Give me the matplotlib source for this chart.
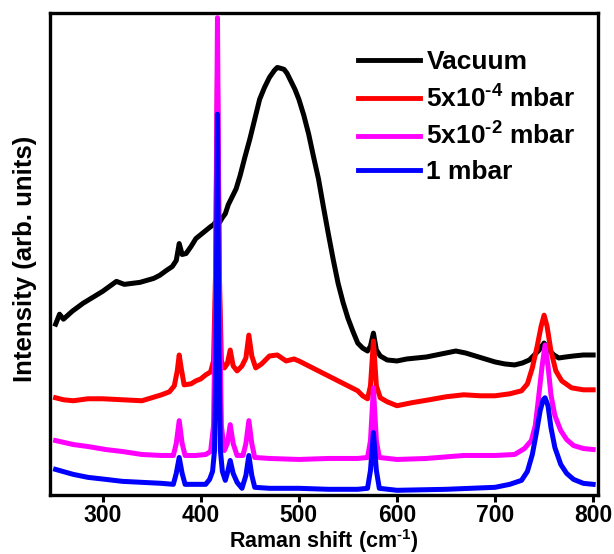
import matplotlib
matplotlib.use("Agg")
import matplotlib.pyplot as plt

plt.rcParams['font.family'] = ['Liberation Sans', 'DejaVu Sans']
plt.rcParams['font.weight'] = 'bold'
plt.rcParams['mathtext.fontset'] = 'custom'
plt.rcParams['mathtext.rm'] = 'Liberation Sans:bold'
plt.rcParams['mathtext.bf'] = 'Liberation Sans:bold'
plt.rcParams['mathtext.default'] = 'bf'

labels = ['Vacuum', r'5x10$^{\text{-}4}$ mbar', r'5x10$^{\text{-}2}$ mbar', '1 mbar']
colors = ['#000000', '#ff0000', '#ff00ff', '#0000ff']

vac_x = [252, 256, 260, 269, 280, 290, 300, 307, 314, 322, 330, 338, 345, 352, 358, 365, 371,
         375, 378, 381, 385, 390, 395, 400, 405, 410, 413, 416, 419, 422, 425, 428, 432, 436,
         440, 445, 450, 455, 460, 465, 470, 475, 478, 482, 485, 488, 492, 496, 500, 505, 510,
         515, 520, 525, 530, 535, 540, 545, 550, 555, 560, 565, 570, 573, 576, 579, 583, 590,
         600, 610, 620, 630, 640, 650, 660, 670, 680, 690, 700, 710, 720, 728, 735, 740, 745,
         750, 755, 760, 765, 772, 780, 790, 800]
vac_y = [172, 182, 177, 185, 193, 199, 205, 210, 215, 212, 213, 214, 216, 218, 221, 226, 230,
         236, 253, 242, 243, 250, 258, 262, 266, 270, 272, 276, 274, 279, 283, 292, 300, 308,
         321, 340, 358, 378, 398, 410, 420, 427, 430, 429, 428, 424, 416, 408, 398, 382, 363,
         340, 318, 290, 263, 237, 213, 194, 178, 165, 153, 148, 145, 150, 163, 146, 140, 136,
         135, 137, 138, 139, 141, 143, 145, 143, 140, 137, 134, 132, 131, 133, 136, 141, 146,
         153, 146, 141, 138, 139, 140, 141, 141]

red_x = [252, 260, 270, 285, 300, 320, 340, 360, 368, 373, 376, 378, 380, 383, 390, 395, 400,
         405, 410, 413, 415, 417, 419, 421, 424, 427, 430, 433, 437, 442, 446, 449, 452, 456,
         462, 470, 478, 487, 495, 500, 510, 520, 530, 540, 550, 560, 565, 570, 573, 576, 579,
         583, 590, 600, 615, 633, 650, 668, 685, 700, 715, 727, 733, 738, 743, 747, 750, 753,
         757, 762, 768, 778, 790, 800]
red_y = [98, 96, 95, 97, 97, 96, 95, 101, 104, 110, 125, 141, 128, 111, 112, 115, 117,
         121, 124, 135, 220, 420, 220, 135, 128, 132, 146, 130, 125, 130, 138, 161, 140, 128,
         132, 140, 141, 135, 137, 135, 130, 125, 120, 115, 110, 105, 100, 97, 110, 155, 110,
         98, 94, 90, 93, 96, 99, 101, 100, 100, 102, 105, 112, 128, 150, 170, 181, 170,
         145, 125, 115, 108, 106, 106]

mag_x = [252, 270, 285, 303, 320, 340, 360, 372, 375, 378, 381, 384, 395, 405, 410, 413, 415,
         417, 419, 421, 424, 427, 430, 433, 437, 443, 446, 449, 452, 455, 470, 500, 530, 560,
         570, 573, 576, 579, 582, 600, 630, 668, 700, 720, 730, 737, 741, 744, 748, 751, 754,
         757, 761, 767, 773, 780, 790, 800]
mag_y = [55, 51, 49, 46, 44, 41, 40, 40, 52, 75, 52, 40, 40, 41, 44, 70, 200,
         480, 200, 70, 45, 52, 71, 52, 40, 40, 52, 75, 52, 38, 37, 36, 37, 37,
         38, 55, 108, 55, 38, 36, 37, 40, 40, 41, 47, 55, 70, 95, 130, 151, 130,
         101, 80, 65, 56, 50, 47, 46]

blue_x = [252, 270, 285, 303, 320, 340, 360, 372, 375, 378, 381, 384, 395, 405, 409, 412, 414,
          415.5, 417, 418.5, 420, 422, 425, 427, 430, 433, 437, 442, 446, 449, 452, 455, 470, 500,
          530, 560, 570, 573, 576, 579, 582, 600, 650, 700, 715, 727, 733, 738, 742, 746, 749,
          751, 754, 757, 761, 767, 773, 780, 790, 800]
blue_y = [26, 21, 18, 16, 14, 13, 12, 11, 22, 38, 22, 11, 11, 11, 16, 24, 45,
          150, 383, 150, 45, 24, 15, 22, 35, 22, 13, 7, 20, 40, 20, 8, 7, 7,
          6, 6, 7, 25, 63, 25, 7, 5, 6, 8, 11, 15, 24, 41, 62, 85, 96,
          98, 90, 68, 48, 31, 22, 16, 12, 11]

fig = plt.figure(figsize=(6.14, 5.54), dpi=100)
ax = fig.add_axes([0.081, 0.106, 0.893, 0.871])

series = [(vac_x, vac_y), (red_x, red_y), (mag_x, mag_y), (blue_x, blue_y)]
for i, ((xs, ys), lab, col) in enumerate(zip(series, labels, colors)):
    ax.plot(xs, ys, color=col, lw=3.6, label=lab, zorder=2 + i, solid_joinstyle='round')

ax.set_xlim(246, 805)
ax.set_ylim(0, 485)
ax.set_xticks([300, 400, 500, 600, 700, 800])
ax.set_yticks([])
ax.tick_params(axis='x', direction='out', length=5, width=2.2, labelsize=16.5, pad=1)
for lbl in ax.get_xticklabels():
    lbl.set_fontweight('bold')
for sp in ax.spines.values():
    sp.set_linewidth(2.4)

ax.set_xlabel(r'Raman shift (cm$^{\text{-}1}$)', fontsize=15.5, fontweight='bold', labelpad=0.5)
ax.set_ylabel('Intensity (arb. units)', fontsize=18.5, fontweight='bold')
ax.yaxis.set_label_coords(-0.024, 0.49)

leg = ax.legend(loc='upper left', bbox_to_anchor=(0.562, 0.922), frameon=False,
                fontsize=19, handlelength=2.35, handletextpad=0.25, labelspacing=0.4,
                borderpad=0, borderaxespad=0)
for h in leg.get_lines():
    h.set_linewidth(3.5)

fig.savefig('out.png', dpi=100)
